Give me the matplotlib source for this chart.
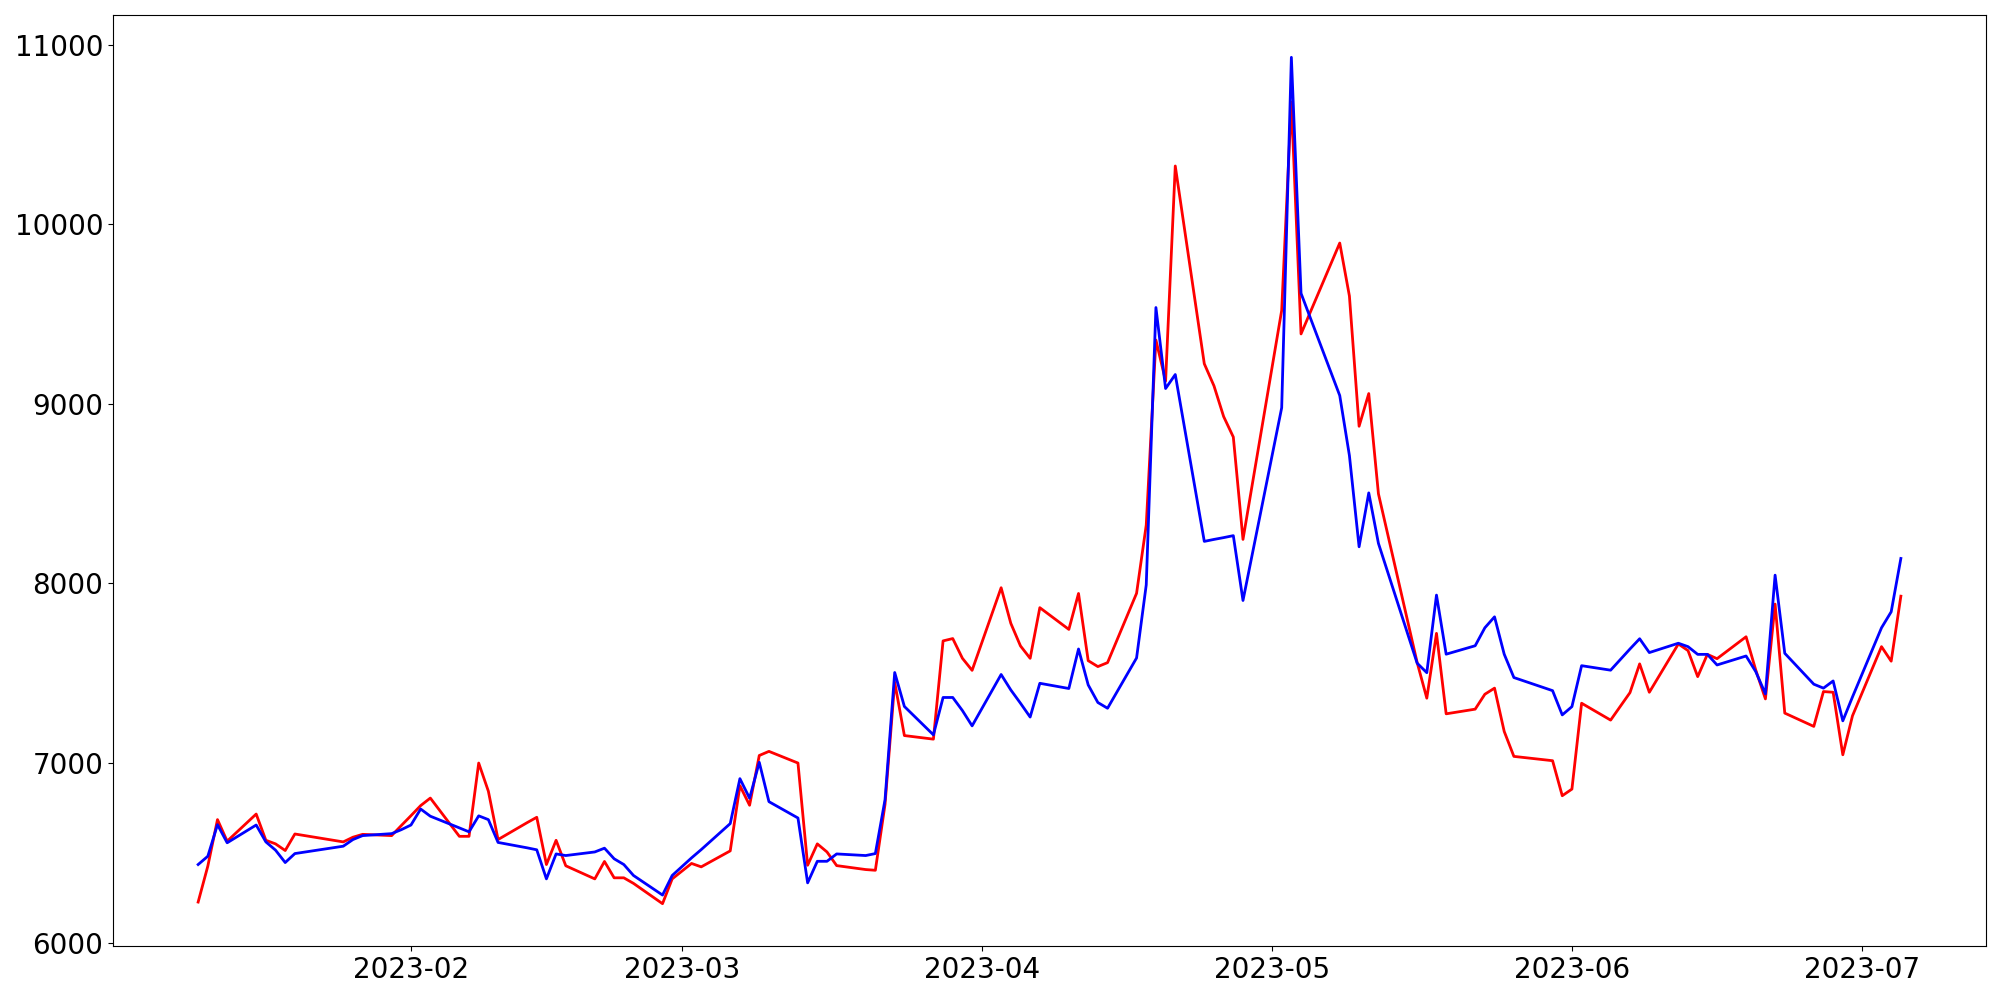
import matplotlib
matplotlib.use('Agg')
import matplotlib.pyplot as plt
import matplotlib.dates as mdates
import pandas as pd

# trading days (gaps = weekends / holidays / missing rows)
dates = [
    '2023-01-10', '2023-01-11', '2023-01-12', '2023-01-13', '2023-01-16', '2023-01-17', '2023-01-18',
    '2023-01-19', '2023-01-20', '2023-01-25', '2023-01-26', '2023-01-27', '2023-01-30', '2023-01-31',
    '2023-02-01', '2023-02-02', '2023-02-03', '2023-02-06', '2023-02-07', '2023-02-08', '2023-02-09',
    '2023-02-10', '2023-02-13', '2023-02-14', '2023-02-15', '2023-02-16', '2023-02-17', '2023-02-20',
    '2023-02-21', '2023-02-22', '2023-02-23', '2023-02-24', '2023-02-27', '2023-02-28',
    '2023-03-02', '2023-03-03', '2023-03-06', '2023-03-07', '2023-03-08', '2023-03-09', '2023-03-10',
    '2023-03-13', '2023-03-14', '2023-03-15', '2023-03-16', '2023-03-17', '2023-03-20', '2023-03-21',
    '2023-03-22', '2023-03-23', '2023-03-24', '2023-03-27', '2023-03-28', '2023-03-29', '2023-03-30',
    '2023-03-31',
    '2023-04-03', '2023-04-04', '2023-04-05', '2023-04-06', '2023-04-07', '2023-04-10', '2023-04-11',
    '2023-04-12', '2023-04-13', '2023-04-14', '2023-04-17', '2023-04-18', '2023-04-19', '2023-04-20',
    '2023-04-21', '2023-04-24', '2023-04-25', '2023-04-26', '2023-04-27', '2023-04-28',
    '2023-05-02', '2023-05-03', '2023-05-04', '2023-05-08', '2023-05-09', '2023-05-10', '2023-05-11',
    '2023-05-12', '2023-05-16', '2023-05-17', '2023-05-18', '2023-05-19', '2023-05-22', '2023-05-23',
    '2023-05-24', '2023-05-25', '2023-05-26', '2023-05-30', '2023-05-31',
    '2023-06-01', '2023-06-02', '2023-06-05', '2023-06-07', '2023-06-08', '2023-06-09', '2023-06-12',
    '2023-06-13', '2023-06-14', '2023-06-15', '2023-06-16', '2023-06-19', '2023-06-20', '2023-06-21',
    '2023-06-22', '2023-06-23', '2023-06-26', '2023-06-27', '2023-06-28', '2023-06-29', '2023-06-30',
    '2023-07-03', '2023-07-04', '2023-07-05',
]

red_values = [
    6226, 6426, 6685, 6565, 6716, 6570, 6550, 6513, 6605, 6561, 6587, 6603, 6596, 6652,
    6707, 6763, 6805, 6592, 6592, 7000, 6843, 6574, 6668, 6698, 6435, 6570, 6428, 6355,
    6452, 6361, 6361, 6330, 6217, 6355,
    6441, 6422, 6511, 6874, 6765, 7042, 7065, 7000, 6431, 6550, 6505, 6429, 6407, 6403,
    6770, 7450, 7153, 7133, 7680, 7693, 7583, 7516,
    7976, 7778, 7652, 7583, 7865, 7744, 7944, 7570, 7537, 7559, 7945, 8325, 9355, 9127,
    10324, 9223, 9100, 8929, 8815, 8245,
    9520, 10680, 9389, 9895, 9600, 8875, 9057, 8499, 7560, 7361, 7722, 7274, 7300, 7383,
    7417, 7176, 7037, 7013, 6818,
    6855, 7333, 7239, 7392, 7552, 7394, 7663, 7626, 7481, 7605, 7581, 7703, 7518, 7357,
    7885, 7278, 7204, 7398, 7394, 7046, 7263,
    7648, 7567, 7929,
]

blue_values = [
    6435, 6481, 6657, 6556, 6655, 6561, 6515, 6446, 6496, 6537, 6574, 6596, 6607, 6629,
    6655, 6744, 6704, 6639, 6617, 6706, 6685, 6558, 6528, 6517, 6355, 6494, 6485, 6505,
    6526, 6467, 6435, 6374, 6265, 6374,
    6472, 6518, 6663, 6913, 6804, 7004, 6785, 6694, 6333, 6453, 6453, 6494, 6485, 6496,
    6796, 7504, 7315, 7157, 7365, 7365, 7292, 7207,
    7493, 7407, 7333, 7256, 7444, 7415, 7635, 7435, 7337, 7305, 7585, 7992, 9536, 9085,
    9163, 8234, 8245, 8255, 8266, 7905,
    8978, 10929, 9615, 9046, 8712, 8204, 8504, 8223, 7556, 7503, 7935, 7606, 7653, 7753,
    7814, 7606, 7476, 7403, 7268,
    7314, 7542, 7517, 7635, 7692, 7615, 7667, 7648, 7605, 7605, 7546, 7596, 7509, 7385,
    8046, 7611, 7439, 7417, 7457, 7235, 7368,
    7753, 7842, 8139,
]

x = pd.to_datetime(dates)

fig, ax = plt.subplots(figsize=(20, 10), dpi=100)
ax.plot(x, red_values, color='red', linewidth=2)
ax.plot(x, blue_values, color='blue', linewidth=2)

ax.xaxis.set_major_locator(mdates.MonthLocator())
ax.xaxis.set_major_formatter(mdates.DateFormatter('%Y-%m'))
ax.tick_params(axis='both', labelsize=20)

plt.subplots_adjust(left=0.0565, right=0.993, top=0.985, bottom=0.054)
plt.savefig('out.png')
plt.close()
